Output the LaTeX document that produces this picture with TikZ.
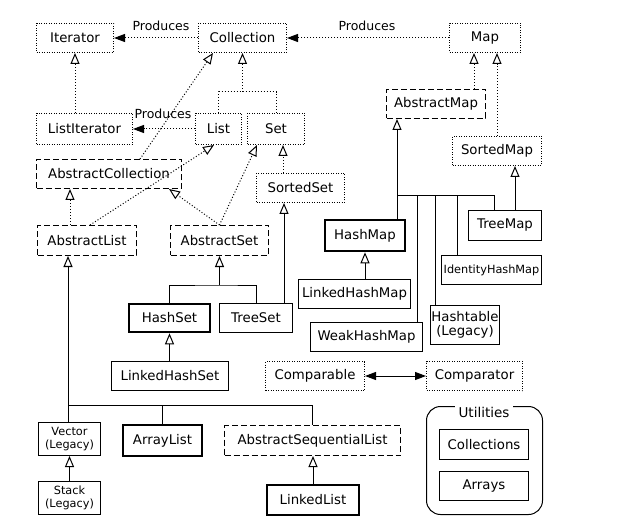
\documentclass[tikz,border=0pt]{standalone}
\usepackage{fontspec}
\setmainfont{DejaVu Sans}
\usetikzlibrary{arrows.meta,calc}
\begin{document}
\begin{tikzpicture}[x=1pt,y=-1pt,
  base/.style={font=\fontsize{13.3}{14.5}\selectfont, inner sep=0pt, anchor=center, align=center},
  small/.style={font=\fontsize{11.3}{13}\selectfont},
  solidbox/.style={base, draw, line width=1pt},
  thickbox/.style={base, draw, line width=2.6pt},
  dashbox/.style={base, draw, line width=1pt, dash pattern=on 6pt off 3pt},
  dotbox/.style={base, draw, line width=1pt, dash pattern=on 1pt off 1.5pt},
  dotline/.style={line width=1pt, dash pattern=on 1pt off 2pt},
  solidline/.style={line width=1pt},
  gen/.style={-{Triangle[open, length=11pt, width=9pt, line width=1pt]}},
  prod/.style={-{Triangle[length=11pt, width=8pt]}},
  lbl/.style={font=\fontsize{12.5}{14}\selectfont, inner sep=0pt}
]
\useasboundingbox (0,0) rectangle (620,526);

% interfaces and abstract classes
\node[dotbox, minimum width=77, minimum height=29] (it) at (75,38) {Iterator};
\node[dotbox, minimum width=88, minimum height=29] (coll) at (242.5,38) {Collection};
\node[dotbox, minimum width=71, minimum height=29] (map) at (485,38) {Map};
\node[dotbox, minimum width=96, minimum height=31] (li) at (84.5,129) {ListIterator};
\node[dotbox, minimum width=46, minimum height=31] (list) at (218.5,129) {List};
\node[dotbox, minimum width=57, minimum height=31] (set) at (276,129) {Set};
\node[dashbox, minimum width=99, minimum height=29] (am) at (436,104) {AbstractMap};
\node[dashbox, minimum width=145, minimum height=29] (ac) at (109,174) {AbstractCollection};
\node[dotbox, minimum width=88, minimum height=29] (ss) at (300.5,188) {SortedSet};
\node[dotbox, minimum width=89, minimum height=29] (sm) at (497,151) {SortedMap};
\node[dashbox, minimum width=99, minimum height=30] (al) at (87,240.5) {AbstractList};
\node[dashbox, minimum width=98, minimum height=30] (as) at (219.5,240.5) {AbstractSet};

% map classes
\node[thickbox, minimum width=80, minimum height=31] (hm) at (365,235.5) {HashMap};
\node[solidbox, minimum width=73, minimum height=30] (tm) at (505,225.5) {TreeMap};
\node[solidbox, small, minimum width=100, minimum height=29] (ihm) at (491.5,270) {IdentityHashMap};
\node[solidbox, minimum width=112, minimum height=29] (lhm) at (354.5,294) {LinkedHashMap};
\node[solidbox, minimum width=69, minimum height=39] (ht) at (465,325) {Hashtable\\(Legacy)};
\node[solidbox, minimum width=112, minimum height=29] (wk) at (366.5,337) {WeakHashMap};

% set classes
\node[thickbox, minimum width=81, minimum height=28] (hs) at (169.5,318) {HashSet};
\node[solidbox, minimum width=73, minimum height=29] (ts) at (256,318) {TreeSet};
\node[solidbox, minimum width=117, minimum height=29] (lhs) at (170,376) {LinkedHashSet};

% comparators
\node[dotbox, minimum width=99, minimum height=29] (cmp) at (315,376) {Comparable};
\node[dotbox, minimum width=96, minimum height=29] (cmpt) at (474.5,376) {Comparator};

% list classes
\node[solidbox, small, minimum width=62, minimum height=33] (vec) at (69.5,439) {Vector\\(Legacy)};
\node[thickbox, minimum width=79, minimum height=31] (arr) at (162.5,440.5) {ArrayList};
\node[dashbox, minimum width=176, minimum height=30] (asl) at (312.5,440.5) {AbstractSequentialList};
\node[solidbox, small, minimum width=62, minimum height=33] (stk) at (69.5,498) {Stack\\(Legacy)};
\node[thickbox, minimum width=92, minimum height=30] (ll) at (313,500) {LinkedList};

% utilities
\node[draw, line width=1pt, rounded corners=14pt, minimum width=116, minimum height=108, inner sep=0pt] (util) at (484.5,460.5) {};
\node[lbl, font=\fontsize{13.5}{15}\selectfont, fill=white, inner xsep=4pt, inner ysep=1pt] (utitle) at (484,412) {Utilities};
\node[solidbox, minimum width=89, minimum height=30] (colls) at (484,444.5) {Collections};
\node[solidbox, minimum width=89, minimum height=29] (arrs) at (484,486) {Arrays};

% produces
\draw[dotline, prod] (coll.west) -- (it.east);
\node[lbl] (p1) at (161,26) {Produces};
\draw[dotline, prod] (map.west) -- (coll.east);
\node[lbl] (p2) at (367,26) {Produces};
\draw[dotline, prod] (list.west) -- (li.east);
\node[lbl] (p3) at (163,114) {Produces};

% interface inheritance (dotted)
\draw[dotline, gen] (li.north -| it.south) -- (it.south);
\coordinate (cj) at (242.5,92);
\draw[dotline] (list.north) |- (cj) -| (set.north);
\draw[dotline, gen] (cj) -- (coll.south);
\draw[dotline, gen] ([xshift=31]ac.north) -- ([xshift=-29.5]coll.south);
\draw[dotline, gen] ([xshift=3]al.north) -- ([xshift=-4.5]list.south);
\draw[dotline, gen] ([xshift=-17]al.north) -- ([xshift=-39]ac.south);
\draw[dotline, gen] (as.north) -- ([xshift=-13]ac.south east);
\draw[dotline, gen] (as.north) -- ([xshift=-19]set.south);
\draw[dotline, gen] ([xshift=-17.5]ss.north) -- ([xshift=7]set.south);
\draw[dotline, gen] ([xshift=38]am.north) -- ([xshift=-11]map.south);
\draw[dotline, gen] (sm.north) -- ([xshift=12]map.south);

% map tree
\coordinate (mj) at (397,196);
\coordinate (tmj) at (494,196);
\coordinate (wkj) at (417,196);
\coordinate (htj) at (435,196);
\coordinate (ihj) at (457,196);
\draw[solidline, gen] (hm.north -| mj) -- (am.south -| mj);
\draw[solidline] (mj) -- (tmj) -- (tmj |- tm.north);
\draw[solidline] (wkj) -- (wkj |- wk.north);
\draw[solidline] (htj) -- (htj |- ht.north);
\draw[solidline] (ihj) -- (ihj |- ihm.north);
\draw[solidline, gen] ([xshift=10]tm.north) -- ([xshift=18]sm.south);
\draw[solidline, gen] (lhm.north -| hm.south) -- (hm.south);

% set tree
\coordinate (sj) at (219.5,285);
\draw[solidline] (hs.north) |- (sj) -| (ts.north);
\draw[solidline, gen] (sj) -- (as.south);
\draw[solidline, gen] ([xshift=28]ts.north) -- ([xshift=-16.5]ss.south);
\draw[solidline, gen] (lhs.north -| hs.south) -- (hs.south);

% list tree
\coordinate (lj) at (68,405);
\coordinate (lj2) at (312.5,405);
\draw[solidline, gen] (lj) -- (al.south -| lj);
\draw[solidline] (lj) -- (lj2) -- (asl.north);
\draw[solidline] (lj) -- (vec.north -| lj);
\draw[solidline] (arr.north |- lj) -- (arr.north);
\draw[solidline, gen] (stk.north) -- (vec.south);
\draw[solidline, gen] (ll.north) -- (ll.north |- asl.south);

% comparable
\draw[solidline, {Triangle[length=11pt, width=8pt]}-{Triangle[length=11pt, width=8pt]}] (cmp.east) -- (cmpt.west);
\end{tikzpicture}
\end{document}
